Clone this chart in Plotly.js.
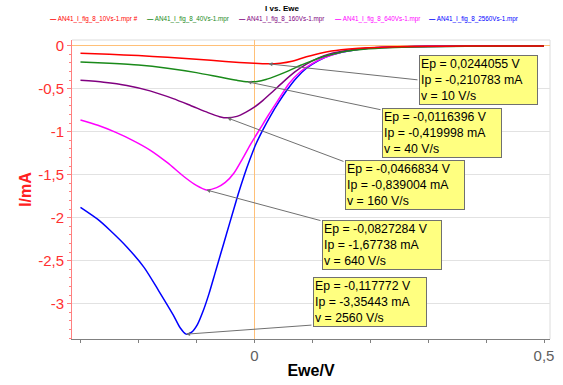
<!DOCTYPE html>
<html>
<head>
<meta charset="utf-8">
<script src="https://cdn.plot.ly/plotly-3.0.1.min.js"></script>
<style>html,body{margin:0;padding:0;background:#fff;}#chart{width:563px;height:385px;}</style>
</head>
<body>
<div id="chart"></div>
<script>
// ---- data ----
const seriesNames = ["AN41_I_fig_8_10Vs-1.mpr #", "AN41_I_fig_8_40Vs-1.mpr", "AN41_I_fig_8_160Vs-1.mpr", "AN41_I_fig_8_640Vs-1.mpr", "AN41_I_fig_8_2560Vs-1.mpr"];

const E10 = [-0.30, -0.25, -0.20, -0.15, -0.10, -0.05, 0.00, 0.0244, 0.045, 0.065, 0.09, 0.12, 0.15, 0.18, 0.22, 0.27, 0.33, 0.40, 0.50];
const I10 = [-0.089, -0.100, -0.115, -0.135, -0.158, -0.183, -0.205, -0.2108, -0.203, -0.180, -0.128, -0.078, -0.048, -0.030, -0.017, -0.010, -0.006, -0.004, -0.003];

const E40 = [-0.30, -0.25, -0.20, -0.15, -0.10, -0.06, -0.03, -0.0116, 0.005, 0.02, 0.04, 0.06, 0.08, 0.10, 0.12, 0.15, 0.18, 0.22, 0.27, 0.33, 0.40, 0.50];
const I40 = [-0.190, -0.205, -0.225, -0.262, -0.313, -0.365, -0.403, -0.420, -0.415, -0.393, -0.345, -0.290, -0.228, -0.175, -0.125, -0.075, -0.048, -0.028, -0.015, -0.008, -0.005, -0.003];

const E160 = [-0.30, -0.26, -0.22, -0.18, -0.14, -0.11, -0.08, -0.06, -0.0467, -0.03, -0.015, 0.00, 0.015, 0.03, 0.05, 0.07, 0.09, 0.11, 0.13, 0.16, 0.20, 0.25, 0.30, 0.40, 0.50];
const I160 = [-0.403, -0.425, -0.462, -0.525, -0.615, -0.695, -0.778, -0.825, -0.839, -0.822, -0.775, -0.715, -0.635, -0.545, -0.420, -0.305, -0.215, -0.145, -0.095, -0.055, -0.028, -0.014, -0.008, -0.004, -0.003];

const E640 = [-0.30, -0.27, -0.24, -0.21, -0.18, -0.15, -0.12, -0.10, -0.0827, -0.065, -0.05, -0.035, -0.02, -0.005, 0.01, 0.025, 0.04, 0.06, 0.08, 0.10, 0.12, 0.15, 0.18, 0.22, 0.27, 0.33, 0.40, 0.50];
const I640 = [-0.864, -0.925, -1.005, -1.100, -1.213, -1.360, -1.530, -1.625, -1.677, -1.650, -1.590, -1.480, -1.310, -1.130, -0.965, -0.800, -0.645, -0.440, -0.300, -0.208, -0.142, -0.076, -0.042, -0.022, -0.012, -0.007, -0.004, -0.003];

const E2560 = [-0.30, -0.27, -0.25, -0.22, -0.19, -0.165, -0.14, -0.128, -0.1178, -0.108, -0.098, -0.088, -0.078, -0.068, -0.058, -0.048, -0.038, -0.028, -0.018, -0.008, 0.003, 0.015, 0.028, 0.042, 0.057, 0.072, 0.09, 0.11, 0.13, 0.16, 0.20, 0.25, 0.30, 0.40, 0.50];
const I2560 = [-1.880, -2.020, -2.140, -2.340, -2.580, -2.850, -3.130, -3.280, -3.354, -3.330, -3.240, -3.080, -2.880, -2.650, -2.420, -2.190, -1.960, -1.730, -1.520, -1.330, -1.140, -0.975, -0.815, -0.660, -0.510, -0.380, -0.262, -0.175, -0.115, -0.066, -0.026, -0.012, -0.007, -0.004, -0.003];

const peakE = [0.0244055, -0.0116396, -0.0466834, -0.0827284, -0.117772];
const peakI = [-0.210783, -0.419998, -0.839004, -1.67738, -3.35443];
const peakLabelE = ["0,0244055", "-0,0116396", "-0,0466834", "-0,0827284", "-0,117772"];
const peakLabelI = ["-0,210783", "-0,419998", "-0,839004", "-1,67738", "-3,35443"];
const scanRates = ["10", "40", "160", "640", "2560"];

const yTickVals = [0, -0.5, -1, -1.5, -2, -2.5, -3];
const yTickText = ["0", "-0,5", "-1", "-1,5", "-2", "-2,5", "-3"];
const xTickVals = [0, 0.5];
const xTickText = ["0", "0,5"];

// ---- styling ----
const colors = ["#ff0000", "#1a8a1a", "#800080", "#ff00ff", "#0000ff"];
const xs = [E10, E40, E160, E640, E2560];
const ys = [I10, I40, I160, I640, I2560];

const traces = [];
for (let i = xs.length - 1; i >= 0; i--) {
  traces.push({
    x: xs[i], y: ys[i], type: "scatter", mode: "lines",
    name: seriesNames[i], showlegend: false,
    line: {color: colors[i], width: 1.5, shape: "spline", smoothing: 0.7},
    hoverinfo: "skip"
  });
}

// plot area in px: left 72, right 550, top 40, bottom 339
const L = 72, R = 550, T = 40, B = 339;
const px2paperX = p => (p - L) / (R - L);
const px2paperY = p => (B - p) / (B - T);

const annotations = [];
// legend-like header entries
const legendLeft = [48, 145, 237, 333, 427];
for (let i = 0; i < seriesNames.length; i++) {
  annotations.push({
    xref: "paper", yref: "paper", x: px2paperX(legendLeft[i]), y: px2paperY(19),
    xanchor: "left", yanchor: "middle", showarrow: false,
    text: "<b>—</b> " + seriesNames[i],
    font: {family: "Liberation Sans, Arial, sans-serif", size: 6.3, color: colors[i]}
  });
}
// peak boxes
const boxLeft = [419, 382, 345, 322, 313];
const boxWidth = [119, 120, 120, 120, 114];
const boxMidY = [80, 133, 184.5, 244.5, 301.5];
const tailPx = [[419, 80], [382, 110], [345, 162], [322, 221], [313, 325]];
const xPx = v => 254.3 + v * 579.4;
const yPx = v => 45.7 - v * 86;
for (let i = 0; i < peakE.length; i++) {
  annotations.push({
    xref: "paper", yref: "paper", x: px2paperX(boxLeft[i]), y: px2paperY(boxMidY[i]),
    xanchor: "left", yanchor: "middle", showarrow: false, align: "left",
    width: boxWidth[i] - 4,
    text: "Ep = " + peakLabelE[i] + " V<br>Ip = " + peakLabelI[i] + " mA<br>v = " + scanRates[i] + " V/s",
    font: {family: "Liberation Sans, Arial, sans-serif", size: 12.3, color: "#000"},
    bgcolor: "#ffff80", bordercolor: "#707070", borderwidth: 1, borderpad: 1
  });
  annotations.push({
    xref: "x", yref: "y", x: peakE[i], y: peakI[i], text: "",
    showarrow: true, arrowhead: 2, arrowsize: 0.8, arrowwidth: 1, arrowcolor: "#707070",
    ax: tailPx[i][0] - xPx(peakE[i]), ay: tailPx[i][1] - yPx(peakI[i])
  });
}

const layout = {
  width: 563, height: 385,
  margin: {l: L, r: 563 - R, t: T, b: 385 - B, pad: 0},
  paper_bgcolor: "#fff", plot_bgcolor: "#fff",
  showlegend: false,
  font: {family: "Liberation Sans, Arial, sans-serif"},
  title: {text: "<b>I vs. Ewe</b>", font: {size: 8, color: "#000"}, xref: "container", x: 282 / 563, xanchor: "center", y: 1 - 8.5 / 385, yanchor: "middle"},
  xaxis: {
    range: [(L - 254.3) / 579.4, (R - 254.3) / 579.4],
    tickmode: "array", tickvals: xTickVals, ticktext: xTickText,
    ticks: "outside", ticklen: 3, tickcolor: "#808080",
    minor: {dtick: 0.1, tick0: 0, ticks: "outside", ticklen: 3, tickcolor: "#808080", showgrid: false},
    tickfont: {size: 15, color: "#606060"},
    showline: true, linecolor: "#808080", linewidth: 1,
    showgrid: false, zeroline: true, zerolinecolor: "#ffc078", zerolinewidth: 1.5,
    title: {text: "<b>Ewe/V</b>", font: {size: 16, color: "#000"}, standoff: 1},
    automargin: false
  },
  yaxis: {
    range: [-(B - 45.7) / 86, (45.7 - T) / 86],
    tickmode: "array", tickvals: yTickVals, ticktext: yTickText,
    ticks: "outside", ticklen: 4, tickcolor: "#ff8080",
    minor: {dtick: 0.1, tick0: 0, ticks: "outside", ticklen: 2, tickcolor: "#ff8080", showgrid: false},
    tickfont: {size: 15, color: "#ff3030"},
    showline: true, linecolor: "#ff8080", linewidth: 1,
    showgrid: true, gridcolor: "#e2e2e2", gridwidth: 1,
    zeroline: true, zerolinecolor: "#ffc078", zerolinewidth: 1.5,
    title: {text: "<b>I/mA</b>", font: {size: 16, color: "#ff2020"}, standoff: 2},
    automargin: false
  },
  shapes: [
    {type: "line", xref: "paper", yref: "paper", x0: 0, x1: 1, y0: 1, y1: 1, line: {color: "#dcdcdc", width: 1}, layer: "below"},
    {type: "line", xref: "paper", yref: "paper", x0: 1, x1: 1, y0: 0, y1: 1, line: {color: "#dcdcdc", width: 1}, layer: "below"}
  ],
  annotations: annotations
};

Plotly.newPlot("chart", traces, layout, {displayModeBar: false, staticPlot: true});
</script>
</body>
</html>
